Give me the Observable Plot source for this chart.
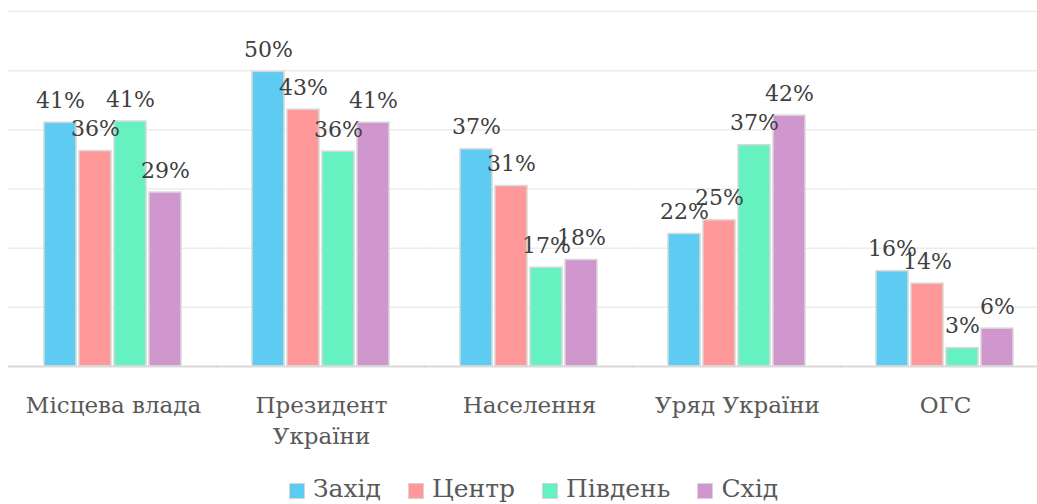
<!DOCTYPE html>
<html>
<head>
<meta charset="utf-8">
<script src="https://cdn.jsdelivr.net/npm/d3@7"></script>
<script src="https://cdn.jsdelivr.net/npm/@observablehq/plot@0.6"></script>
<style>
  html, body { margin: 0; padding: 0; background: #fff; }
  #wrap { position: relative; width: 1037px; height: 504px; overflow: hidden; font-family: "DejaVu Serif", serif; }
  #wrap svg { position: absolute; left: 0; top: 0; }
  #legend { position: absolute; left: 289px; top: 474px; display: flex; gap: 27px; font-size: 25px; line-height: 30px; color: #595959; white-space: nowrap; }
  #legend .sw { display: inline-block; width: 16px; height: 16px; margin-right: 8px; position: relative; top: 2px; box-sizing: border-box; border: 1px solid #d6d6d6; }
</style>
</head>
<body>
<div id="wrap"></div>
<script>
const categories = ["Місцева влада", "Президент України", "Населення", "Уряд України", "ОГС"];
const regions = ["Захід", "Центр", "Південь", "Схід"];
const zahid  = [41.2, 49.8, 36.7, 22.4, 16.1];
const tsentr = [36.4, 43.4, 30.5, 24.7, 14.0];
const pivden = [41.4, 36.3, 16.7, 37.4, 3.1];
const skhid  = [29.4, 41.2, 18.0, 42.4, 6.4];
const regionColors = ["#5ecbf3", "#ff9898", "#66f1c1", "#cf97ce"];
const gridTicks = [10, 20, 30, 40, 50, 60];
const tickLabels = {"Президент України": "Президент\nУкраїни"};

const series = [zahid, tsentr, pivden, skhid];
const data = [];
categories.forEach((c, i) => regions.forEach((r, j) => data.push({category: c, region: r, value: series[j][i]})));

const font = "DejaVu Serif";
const chart = Plot.plot({
  width: 1037,
  height: 470,
  marginLeft: 9,
  marginRight: 0,
  marginTop: 11,
  marginBottom: 104,
  style: {fontFamily: font, background: "transparent"},
  fx: {domain: categories, range: [9, 1049], paddingInner: 0.327, paddingOuter: 0.1635, label: null},
  x: {domain: regions, paddingInner: 0.08, paddingOuter: 0.04, axis: null},
  y: {domain: [0, 60], axis: null},
  color: {domain: regions, range: regionColors},
  marks: [
    Plot.ruleY(gridTicks, {stroke: "#ececec", strokeWidth: 1.5, insetLeft: -35, insetRight: -35}),
    Plot.barY(data, {fx: "category", x: "region", y: "value", fill: "region", stroke: "#d8d8d8", strokeWidth: 1.5}),
    Plot.ruleY([0], {stroke: "#d9d9d9", strokeWidth: 2, insetLeft: -35, insetRight: -35}),
    Plot.text(data, {fx: "category", x: "region", y: "value", text: d => Math.round(d.value) + "%", lineAnchor: "bottom", dy: -15, fontSize: 22, fill: "#404040", fontFamily: font}),
    Plot.axisFx({anchor: "bottom", tickSize: 0, tickPadding: 24, fontSize: 23, lineHeight: 1.35, color: "#595959", label: null, tickFormat: d => tickLabels[d] || d, fontFamily: font})
  ]
});
document.getElementById("wrap").appendChild(chart);

const legend = document.createElement("div");
legend.id = "legend";
regions.forEach((r, i) => {
  const item = document.createElement("span");
  const sw = document.createElement("span");
  sw.className = "sw";
  sw.style.background = regionColors[i];
  item.appendChild(sw);
  item.appendChild(document.createTextNode(r));
  legend.appendChild(item);
});
document.getElementById("wrap").appendChild(legend);
</script>
</body>
</html>
